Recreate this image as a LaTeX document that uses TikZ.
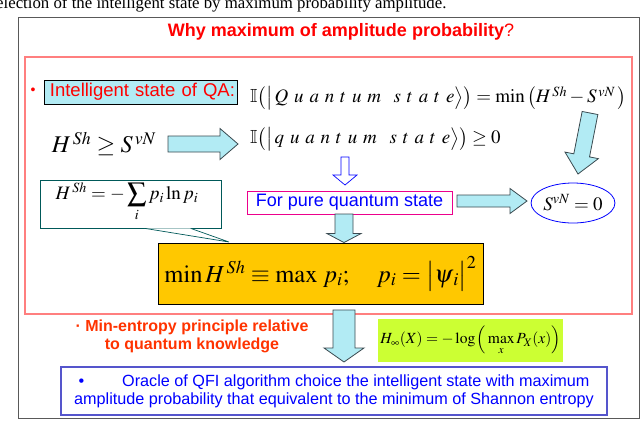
\documentclass[tikz,border=0pt]{standalone}
\usepackage{mathptmx}
\usepackage{amssymb}
\usepackage{fontspec}
\setmainfont{Liberation Serif}
\setsansfont{Liberation Sans}
\usetikzlibrary{calc,shapes.geometric}
\definecolor{acyan}{HTML}{B2EBF4}
\definecolor{aborder}{HTML}{3A4A50}
\definecolor{gold}{HTML}{FFC800}
\definecolor{lime}{HTML}{CCFF33}
\definecolor{boxred}{HTML}{FF7F7F}
\definecolor{oblue}{HTML}{0000FF}
\definecolor{borange}{HTML}{FF3300}
\definecolor{qblue}{HTML}{5555CC}
\tikzset{
  barrow/.style={fill=acyan, draw=aborder, line width=0.8pt, line join=miter},
  sanstxt/.style={font=\sffamily\fontsize{18}{20}\selectfont},
}
\newcommand\blockarrow[6][]{%
  \coordinate (ba-h) at ($(#3)!#6!(#2)$);
  \draw[barrow,#1] ($(#2)!#4!90:(#3)$) -- ($(ba-h)!#4!-90:(#2)$) -- ($(ba-h)!#5!-90:(#2)$) -- (#3)
     -- ($(ba-h)!#5!90:(#2)$) -- ($(ba-h)!#4!90:(#2)$) -- ($(#2)!#4!-90:(#3)$) -- cycle;}
\newcommand\gp{\mskip5.5mu}
\begin{document}
\begin{tikzpicture}[x=1pt,y=-1pt]
\useasboundingbox (0,0) rectangle (640,421);
% caption
\node[anchor=base west, inner sep=0, font=\fontsize{16.8}{18}\selectfont] (cap) at (-4,8) {election of the intelligent state by maximum probability amplitude.};
% outer frame
\draw[draw=gray!70!black, line width=1pt] (18,17) rectangle (639,418);
\node[font=\sffamily\bfseries\fontsize{18}{20}\selectfont, text=red] (title) at (341,32) {Why maximum of amplitude probability\textmd{?}};
% red box
\draw[draw=boxred, line width=1.2pt] (25,57) rectangle (632,314);
% bullet + intelligent state
\node[text=red, font=\sffamily\fontsize{14}{16}\selectfont] (b1) at (33,91) {\textbullet};
\node[text=red, font=\sffamily\fontsize{18.5}{21}\selectfont, fill=acyan, draw=black, line width=0.9pt, text width=189pt, align=right, minimum height=24, inner xsep=2pt, inner ysep=0] (isq) at (140.5,92) {Intelligent state of QA:};
\node[anchor=west, inner sep=0, font=\fontsize{19}{21}\selectfont] (f1) at (250,98) {$\mathbb{I}\big(\big|\,Q\gp u\gp a\gp n\gp t\gp u\gp m\;\;\;s\gp t\gp a\gp t\gp e\big\rangle\big) = \min\big(H^{\,Sh} - S^{\,vN}\,\big)$};
% H >= S
\node[font=\fontsize{24}{26}\selectfont, inner sep=0] (hs) at (104,144) {$H^{\,Sh} \geq S^{\,vN}$};
\node[anchor=west, inner sep=0, font=\fontsize{19}{21}\selectfont] (f2) at (250,139) {$\mathbb{I}\big(\big|\,q\gp u\gp a\gp n\gp t\gp u\gp m\;\;\;s\gp t\gp a\gp t\gp e\big\rangle\big) \geq 0$};
\coordinate (a1s) at (168,144);
\coordinate (a1e) at (238,144);
\blockarrow{a1s}{a1e}{8pt}{15.5pt}{18pt}
% hollow small arrow
\coordinate (a2s) at (345,157);
\coordinate (a2e) at (345,185);
\blockarrow[fill=white, draw=oblue, line width=0.7pt]{a2s}{a2e}{4pt}{12pt}{10pt}
% pure quantum state box
\node[sanstxt, text=oblue, draw=magenta, line width=1pt, minimum width=205, minimum height=23, inner sep=0] (pure) at (349.5,202.5) {For pure quantum state};
% ellipse
\node[ellipse, draw=oblue, line width=0.8pt, minimum width=80, minimum height=40, inner sep=0, font=\fontsize{19}{21}\selectfont] (s0) at (573,203) {$S^{vN} = 0$};
\coordinate (a3s) at (457,201);
\coordinate (a3e) at (527,201);
\blockarrow{a3s}{a3e}{6pt}{12.5pt}{17pt}
% diagonal arrow
\coordinate (a4s) at (590,113);
\coordinate (a4e) at (578,174);
\blockarrow{a4s}{a4e}{8pt}{17pt}{19pt}
% callout H^Sh
\node[draw=teal!70!black, line width=0.7pt, fill=white, minimum width=181, minimum height=48, inner sep=0] (hsum) at (130.5,204) {};
\coordinate (ctip) at (229,242);
\draw[draw=teal!70!black, line width=0.7pt, fill=white] ($(hsum.south west)+(105,0)$) -- (ctip) -- ($(hsum.south west)+(151,0)$);
\node[font=\fontsize{19}{21}\selectfont, anchor=north, inner sep=0] (hsumt) at (127,183) {$H^{\,Sh} = -\displaystyle\sum_{i} p_i \ln p_i$};
% gold box
\node[fill=gold, draw=black, line width=0.9pt, minimum width=325, minimum height=61, inner sep=0, font=\fontsize{24.5}{27}\selectfont] (gold) at (320.5,273.5) {$\min H^{\,Sh} \equiv \max\, p_i;\quad p_i = \big|\psi_{\,i}\big|^2$};
\coordinate (a5s) at (344,214);
\blockarrow{a5s}{gold.north -| a5s}{9pt}{17pt}{9pt}
% big arrow down
\coordinate (a6s) at (344,310);
\coordinate (a6e) at (344,362);
\blockarrow{a6s}{a6e}{11pt}{20pt}{14pt}
% min-entropy text
\node[font=\sffamily\bfseries\fontsize{16}{18}\selectfont, text=borange, align=center] (minent) at (192,336) {\textperiodcentered{} Min-entropy principle relative\\to quantum knowledge};
% H infinity box
\node[fill=lime, minimum width=185, minimum height=43, inner sep=0, font=\fontsize{15.5}{17}\selectfont] (hinf) at (470.5,340.5) {$H_{\infty}(X) = -\log\Big(\max\limits_{x} P_X(x)\Big)$};
% final blue box
\node[draw=qblue, line width=1.2pt, fill=white, minimum width=546, minimum height=48, inner sep=0, align=center, text=oblue, font=\sffamily\fontsize{16.2}{18}\selectfont] (oracle) at (334,391) {\textbullet\hspace{38pt}Oracle of QFI algorithm choice the intelligent state with maximum\\amplitude probability that equivalent to the minimum of Shannon entropy};
\end{tikzpicture}
\end{document}
